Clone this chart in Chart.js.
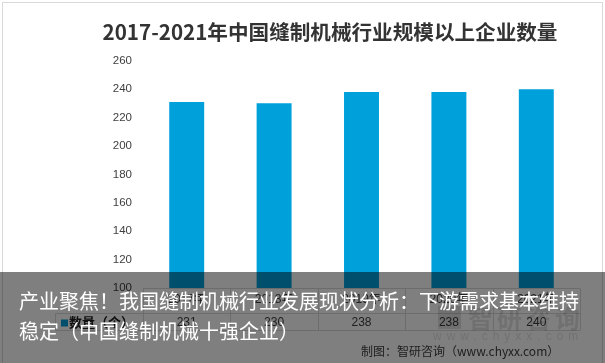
<!DOCTYPE html>
<html>
<head>
<meta charset="utf-8">
<script src="https://cdn.jsdelivr.net/npm/chart.js@4/dist/chart.umd.min.js"></script>
<style>
  html, body { margin: 0; padding: 0; background: #fff; }
  #wrap { position: relative; width: 605px; height: 363px; overflow: hidden; }
  #chart { position: absolute; left: 0; top: 0; }
  #banner {
    position: absolute; left: 0; top: 272px; width: 605px; height: 91px;
    background: rgba(0, 0, 0, 0.5);
  }
  #bannerText {
    position: absolute; left: 19px; top: 286px;
    color: #fff; font-family: "Noto Sans CJK SC", sans-serif;
    font-size: 20px; line-height: 30px; white-space: nowrap;
  }
</style>
</head>
<body>
<div id="wrap">
  <canvas id="chart" width="605" height="363"></canvas>
  <div id="banner"></div>
  <div id="bannerText">产业聚焦！我国缝制机械行业发展现状分析：下游需求基本维持<br>稳定（中国缝制机械十强企业）</div>
</div>
<script>
const years = ['2017年', '2018年', '2019年', '2020年', '2021年'];
const counts = [231, 230, 238, 238, 240];
const seriesName = '数量（个）';
const chartTitle = '2017-2021年中国缝制机械行业规模以上企业数量';
const sourceText = '制图：智研咨询（www.chyxx.com）';

const barColor = '#00A1DB';
const textColor = '#404040';

// data table + frame + source drawn under the chart
const tablePlugin = {
  id: 'dataTable',
  beforeDraw(chart) {
    const ctx = chart.ctx;
    ctx.save();
    ctx.strokeStyle = '#d9d9d9';
    ctx.lineWidth = 1;
    ctx.strokeRect(2.5, 2.5, 600, 380);
    ctx.restore();
  },
  afterDraw(chart) {
    const ctx = chart.ctx;
    const x = chart.scales.x;
    const area = chart.chartArea;
    const colW = x.width / years.length;
    const top = area.bottom + 0.5;
    const mid = top + 25;
    const bot = top + 42;
    const keyLeft = 55.5;

    ctx.save();
    ctx.strokeStyle = '#d9d9d9';
    ctx.lineWidth = 1;
    ctx.beginPath();
    ctx.moveTo(area.left, top); ctx.lineTo(area.right, top);
    ctx.moveTo(keyLeft, mid); ctx.lineTo(area.right, mid);
    ctx.moveTo(keyLeft, bot); ctx.lineTo(area.right, bot);
    ctx.moveTo(keyLeft, mid); ctx.lineTo(keyLeft, bot);
    for (let i = 0; i <= years.length; i++) {
      const px = Math.round(area.left + i * colW) + 0.5;
      ctx.moveTo(px, top); ctx.lineTo(px, bot);
    }
    ctx.stroke();

    ctx.fillStyle = textColor;
    ctx.textAlign = 'center';
    ctx.textBaseline = 'middle';
    ctx.font = '12px "Liberation Sans", "Noto Sans CJK SC", sans-serif';
    years.forEach((y, i) => {
      const cx = x.getPixelForValue(i);
      ctx.fillText(y, cx, top + 11);
      ctx.fillText(String(counts[i]), cx, mid + 9);
    });

    // legend key
    ctx.fillStyle = barColor;
    ctx.fillRect(61, mid + 6, 7, 7);
    ctx.fillStyle = '#202020';
    ctx.textAlign = 'left';
    ctx.font = 'bold 13px "Noto Sans CJK SC", sans-serif';
    ctx.fillText(seriesName, 69, mid + 9);

    // watermark
    ctx.fillStyle = 'rgba(0,0,0,0.12)';
    ctx.fillRect(438, 306, 23, 23);
    ctx.font = 'bold 25px "Noto Sans CJK SC", sans-serif';
    ctx.letterSpacing = '4px';
    ctx.fillText('智研咨询', 468, 318);
    ctx.font = '12px "Liberation Sans", sans-serif';
    ctx.letterSpacing = '5px';
    ctx.fillText('www.chyxx.com', 433, 337);
    ctx.letterSpacing = '0px';

    // source
    ctx.fillStyle = textColor;
    ctx.font = '12px "Noto Sans CJK SC", sans-serif';
    ctx.fillText(sourceText, 361, 351);
    ctx.restore();
  }
};

new Chart(document.getElementById('chart'), {
  type: 'bar',
  plugins: [tablePlugin],
  data: {
    labels: years,
    datasets: [{
      label: seriesName,
      data: counts,
      backgroundColor: barColor,
      borderWidth: 0,
      barPercentage: 0.4,
      categoryPercentage: 1
    }]
  },
  options: {
    responsive: false,
    animation: false,
    layout: { padding: { left: 80, right: 25, top: 0, bottom: 75 } },
    plugins: {
      legend: { display: false },
      tooltip: { enabled: false },
      title: {
        display: true,
        text: chartTitle,
        color: '#333333',
        font: { size: 20.6, weight: 'bold', family: '"Noto Sans CJK SC", sans-serif', lineHeight: 1.2 },
        padding: { top: 20, bottom: 16 }
      }
    },
    scales: {
      x: { display: false },
      y: {
        min: 100,
        max: 260,
        grid: { display: false },
        border: { display: false },
        ticks: {
          stepSize: 20,
          padding: 3,
          color: textColor,
          font: { size: 11.5, family: '"Liberation Sans", sans-serif' }
        },
        afterFit(scale) { scale.width = 63; }
      }
    }
  }
});
</script>
</body>
</html>
